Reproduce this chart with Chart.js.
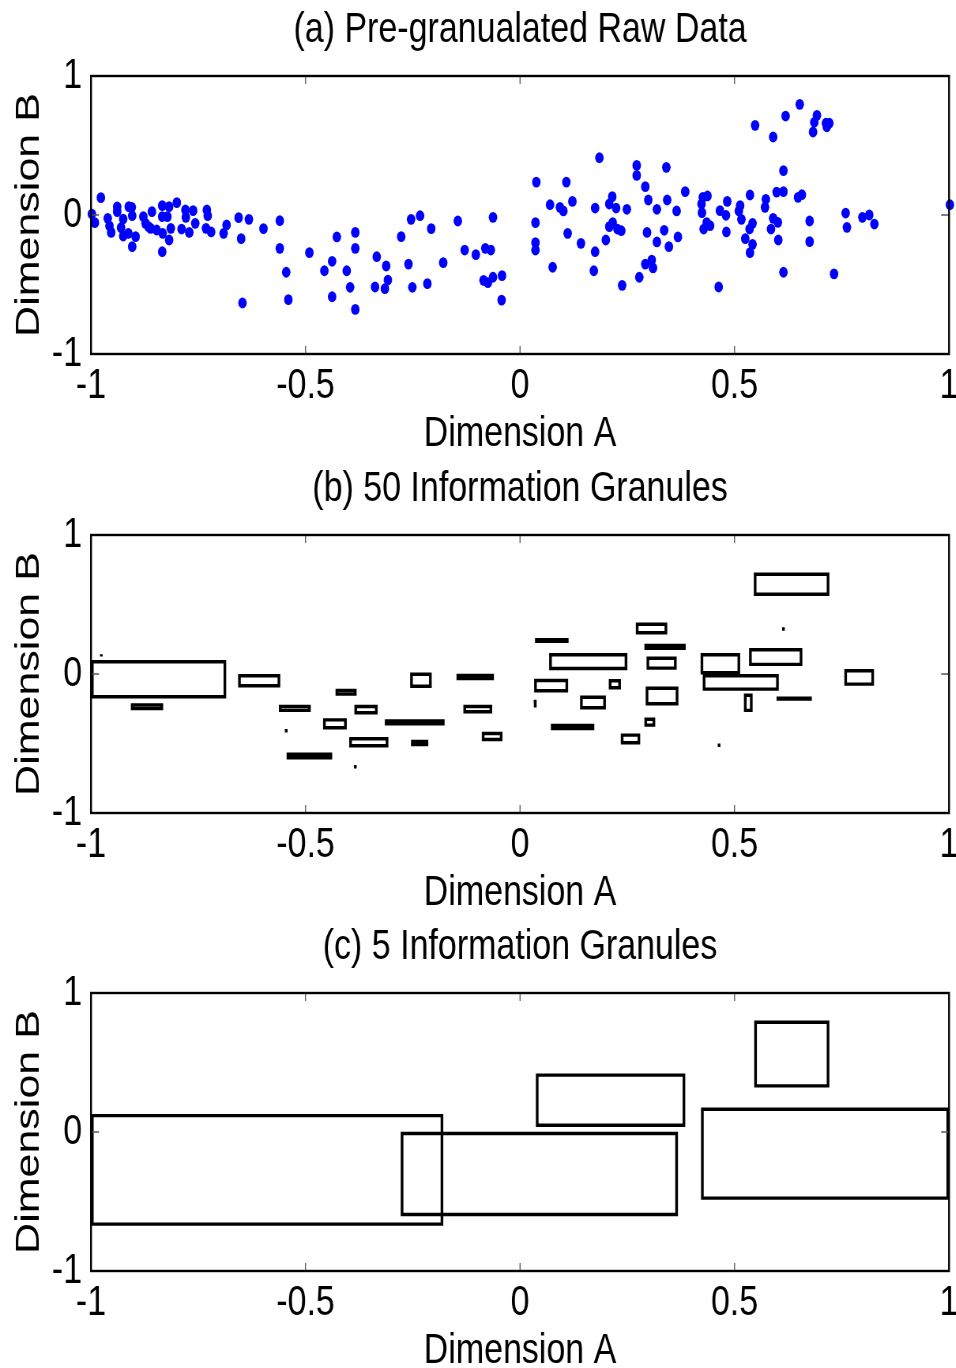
<!DOCTYPE html>
<html>
<head>
<meta charset="utf-8">
<script src="https://cdn.jsdelivr.net/npm/chart.js@4.4.1/dist/chart.umd.min.js"></script>
<style>
html, body { margin: 0; padding: 0; background: #fff; width: 956px; height: 1368px; overflow: hidden; position: relative; }
canvas { position: absolute; left: 0; transform: scaleX(0.79); transform-origin: 0 0; }
</style>
</head>
<body>
<canvas id="chartA" width="1260" height="460" style="top:0px"></canvas>
<canvas id="chartB" width="1260" height="460" style="top:459px"></canvas>
<canvas id="chartC" width="1260" height="460" style="top:917px"></canvas>
<script>
// tick labels
const xTickValues = [-1, -0.5, 0, 0.5, 1];
const yTickValues = [-1, 0, 1];

// (a) raw data points
const rawDimA = [
  -0.998, -0.991, -0.977, -0.961, -0.957, -0.953, -0.939, -0.939, -0.925, -0.930,
  -0.925, -0.912, -0.905, -0.904, -0.913, -0.896, -0.904, -0.878, -0.873, -0.866,
  -0.858, -0.861, -0.847, -0.834, -0.834, -0.818, -0.822, -0.833, -0.818, -0.814,
  -0.834, -0.800, -0.789, -0.780, -0.779, -0.771, -0.762, -0.757, -0.730, -0.728,
  -0.732, -0.720, -0.691, -0.684, -0.656, -0.632, -0.650, -0.647, -0.598, -0.560,
  -0.560, -0.545, -0.540, -0.491, -0.456, -0.438, -0.438, -0.427, -0.404, -0.396,
  -0.384, -0.384, -0.384, -0.334, -0.338, -0.315, -0.308, -0.312, -0.277, -0.260,
  -0.254, -0.251, -0.233, -0.216, -0.207, -0.179, -0.145, -0.129, -0.103, -0.081,
  -0.068, -0.085, -0.075, -0.063, -0.042, -0.043, -0.063, 0.038, 0.036, 0.036,
  0.036, 0.070, 0.076, 0.093, 0.101, 0.108, 0.122, 0.111, 0.142, 0.172,
  0.175, 0.175, 0.185, 0.200, 0.208, 0.215, 0.224, 0.208, 0.216, 0.227,
  0.236, 0.238, 0.249, 0.272, 0.272, 0.292, 0.299, 0.319, 0.296, 0.319,
  0.278, 0.292, 0.307, 0.310, 0.341, 0.343, 0.336, 0.347, 0.365, 0.385,
  0.368, 0.426, 0.437, 0.423, 0.424, 0.435, 0.443, 0.428, 0.466, 0.480,
  0.483, 0.481, 0.463, 0.513, 0.510, 0.516, 0.536, 0.548, 0.525, 0.535,
  0.542, 0.542, 0.536, 0.573, 0.571, 0.590, 0.590, 0.601, 0.585, 0.602,
  0.598, 0.614, 0.614, 0.619, 0.614, 0.648, 0.657, 0.652, 0.675, 0.675,
  0.692, 0.686, 0.683, 0.713, 0.721, 0.715, 0.732, 0.759, 0.762, 0.798,
  0.814, 0.826, 1.002
];
const rawDimB = [
  0.007, -0.055, 0.125, -0.024, -0.079, -0.125, 0.058, 0.024, -0.029, -0.091,
  -0.151, 0.060, 0.055, -0.005, -0.132, -0.156, -0.228, -0.012, -0.060, -0.084,
  0.024, -0.096, -0.108, 0.067, -0.012, 0.060, -0.012, -0.132, -0.180, -0.096,
  -0.264, 0.089, -0.101, 0.036, -0.017, -0.125, 0.031, -0.060, 0.036, -0.005,
  -0.096, -0.122, -0.132, -0.072, -0.019, -0.031, -0.170, -0.633, -0.098, -0.041,
  -0.240, -0.412, -0.609, -0.271, -0.401, -0.333, -0.588, -0.158, -0.401, -0.520,
  -0.125, -0.240, -0.679, -0.300, -0.518, -0.530, -0.468, -0.367, -0.156, -0.353,
  -0.031, -0.520, -0.005, -0.494, -0.098, -0.343, -0.043, -0.252, -0.285, -0.240,
  -0.252, -0.470, -0.487, -0.448, -0.436, -0.612, -0.017, 0.237, -0.055, -0.199,
  -0.252, 0.074, -0.376, 0.055, 0.029, 0.237, 0.098, -0.132, -0.204, -0.401,
  0.050, -0.264, 0.412, -0.180, 0.079, 0.132, 0.050, -0.084, -0.055, -0.101,
  -0.113, -0.506, 0.041, 0.357, 0.285, 0.204, 0.108, 0.041, -0.125, -0.194,
  -0.448, -0.353, -0.324, -0.381, 0.343, 0.108, -0.110, -0.228, 0.029, 0.168,
  -0.158, 0.127, 0.137, 0.079, 0.017, -0.055, -0.077, -0.101, 0.031, -0.002,
  0.098, -0.122, -0.518, 0.067, 0.029, -0.031, 0.144, 0.645, -0.170, -0.101,
  -0.060, -0.211, -0.271, 0.113, 0.055, 0.561, -0.024, -0.053, -0.101, -0.180,
  0.165, 0.168, 0.319, 0.712, -0.412, 0.127, 0.146, 0.796, -0.043, -0.192,
  0.717, 0.667, 0.597, 0.660, 0.660, 0.635, -0.424, 0.014, -0.089, -0.017,
  0.000, -0.065, 0.074
];

// (b) 50 granules: outer box edges
const g50Left   = [-0.977, -1.000, -0.907, -0.657, -0.562, -0.546, -0.430, -0.459, -0.386, -0.544,
                   -0.398, -0.385, -0.256, -0.148, -0.132, -0.315, -0.254, -0.089, 0.035, 0.068,
                   0.033, 0.032, 0.207, 0.140, 0.072, 0.235, 0.270, 0.290, 0.295, 0.293,
                   0.290, 0.545, 0.613, 0.421, 0.534, 0.426, 0.522, 0.598, 0.756, 0.463];
const g50Right  = [-0.975, -0.685, -0.832, -0.559, -0.488, -0.544, -0.381, -0.404, -0.332, -0.438,
                   -0.307, -0.383, -0.206, -0.061, -0.065, -0.176, -0.214, -0.041, 0.113, 0.250,
                   0.112, 0.039, 0.235, 0.200, 0.173, 0.280, 0.343, 0.386, 0.365, 0.369,
                   0.315, 0.721, 0.615, 0.513, 0.658, 0.603, 0.542, 0.680, 0.825, 0.465];
const g50Top    = [0.140, 0.099, -0.211, -0.002, -0.223, -0.400, -0.108, -0.319, -0.223, -0.566,
                   -0.455, -0.660, 0.009, 0.000, -0.223, -0.326, -0.475, -0.417, 0.257, 0.149,
                   -0.036, -0.187, -0.038, -0.156, -0.360, -0.429, 0.369, 0.216, 0.124, -0.091,
                   -0.314, 0.729, 0.331, 0.149, 0.185, -0.002, -0.142, -0.163, 0.034, -0.506];
const g50Bottom = [0.115, -0.175, -0.259, -0.096, -0.273, -0.416, -0.156, -0.398, -0.290, -0.614,
                   -0.527, -0.674, -0.099, -0.043, -0.283, -0.369, -0.518, -0.482, 0.225, 0.029,
                   -0.132, -0.252, -0.110, -0.254, -0.403, -0.506, 0.286, 0.174, 0.031, -0.225,
                   -0.379, 0.563, 0.317, -0.002, 0.058, -0.120, -0.273, -0.192, -0.084, -0.520];

// (c) 5 granules
const g5Left   = [-1.000, -0.278, 0.037, 0.546, 0.422];
const g5Right  = [-0.179, 0.368, 0.385, 0.721, 1.000];
const g5Top    = [0.129, 0.000, 0.420, 0.801, 0.175];
const g5Bottom = [-0.674, -0.604, 0.038, 0.321, -0.487];

const FONT = "'Liberation Sans', Arial, sans-serif";
Chart.defaults.font.family = FONT;
Chart.defaults.color = '#000';

// frame, inward ticks and panel title (MATLAB look)
const boxFrame = {
  id: 'boxFrame',
  afterDatasetsDraw(chart, args, opts) {
    const { ctx, chartArea: a, scales: { x, y } } = chart;
    ctx.save();
    ctx.strokeStyle = '#555';
    ctx.lineWidth = 1.3;
    ctx.beginPath();
    xTickValues.forEach(v => {
      const px = x.getPixelForValue(v);
      ctx.moveTo(px, a.bottom); ctx.lineTo(px, a.bottom - 8);
      ctx.moveTo(px, a.top); ctx.lineTo(px, a.top + 8);
    });
    yTickValues.forEach(v => {
      const py = y.getPixelForValue(v);
      ctx.moveTo(a.left, py); ctx.lineTo(a.left + 10, py);
      ctx.moveTo(a.right, py); ctx.lineTo(a.right - 10, py);
    });
    ctx.stroke();
    ctx.strokeStyle = '#000';
    ctx.lineWidth = 2.4;
    ctx.strokeRect(a.left, a.top, a.right - a.left, a.bottom - a.top);

    ctx.fillStyle = '#000';
    ctx.font = '43px ' + FONT;
    ctx.textAlign = 'center';
    ctx.textBaseline = 'alphabetic';
    ctx.fillText(opts.text, (a.left + a.right) / 2, 42);
    ctx.restore();
  }
};

// boxes as closed polylines; edges moved in by half a stroke
function boxSets(left, right, top, bottom, width) {
  const dx = 0.003, dy = 0.011;
  return left.map((l, i) => {
    let x1 = l + dx, x2 = right[i] - dx, y1 = top[i] - dy, y2 = bottom[i] + dy;
    if (x1 > x2) { x1 = x2 = (l + right[i]) / 2; }
    if (y2 > y1) { y1 = y2 = (top[i] + bottom[i]) / 2; }
    return {
      data: [
        { x: x1, y: y1 }, { x: x2, y: y1 },
        { x: x2, y: y2 }, { x: x1, y: y2 }, { x: x1, y: y1 }
      ],
      showLine: true,
      borderColor: '#000',
      borderWidth: width,
      borderJoinStyle: 'miter',
      borderCapStyle: 'square',
      pointRadius: 0,
      fill: false,
      tension: 0,
      clip: 4
    };
  });
}

function makePanel(id, titleText, datasets) {
  return new Chart(document.getElementById(id), {
    type: 'scatter',
    data: { datasets: datasets },
    options: {
      responsive: false,
      animation: false,
      layout: { padding: { left: 0, right: 58.7, top: 76, bottom: 0 } },
      plugins: {
        legend: { display: false },
        tooltip: { enabled: false },
        title: { display: false },
        boxFrame: { text: titleText }
      },
      scales: {
        x: {
          type: 'linear', min: -1, max: 1,
          afterBuildTicks: s => { s.ticks = xTickValues.map(v => ({ value: v })); },
          afterFit: s => { s.height = 106; },
          ticks: { font: { size: 43 }, padding: 6, maxRotation: 0, callback: v => String(v) },
          grid: { display: false, drawTicks: false },
          border: { display: false },
          title: { display: true, text: 'Dimension A', font: { size: 43, lineHeight: 1.2 }, padding: { top: 0, bottom: 0 } }
        },
        y: {
          type: 'linear', min: -1, max: 1,
          afterBuildTicks: s => { s.ticks = yTickValues.map(v => ({ value: v })); },
          afterFit: s => { s.width = 115.2; },
          ticks: { font: { size: 43 }, padding: 11.4, callback: v => String(v) },
          grid: { display: false, drawTicks: false },
          border: { display: false },
          title: { display: true, text: 'Dimension B', font: { size: 43, lineHeight: 1.2 }, padding: { top: 11, bottom: 0 } }
        }
      }
    },
    plugins: [boxFrame]
  });
}

makePanel('chartA', '(a) Pre-granualated Raw Data', [{
  data: rawDimA.map((v, i) => ({ x: v, y: rawDimB[i] })),
  backgroundColor: '#0000ff',
  borderWidth: 0,
  pointRadius: 5.4,
  clip: 12
}]);

makePanel('chartB', '(b) 50 Information Granules', boxSets(g50Left, g50Right, g50Top, g50Bottom, 3.4));

makePanel('chartC', '(c) 5 Information Granules', boxSets(g5Left, g5Right, g5Top, g5Bottom, 3.4));
</script>
</body>
</html>
